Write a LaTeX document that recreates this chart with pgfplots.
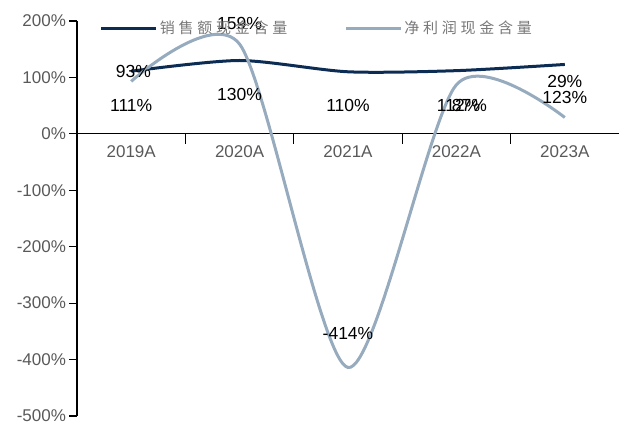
\documentclass[border=0pt]{standalone}
\usepackage{fontspec}
\setmainfont{Liberation Sans}
\newfontfamily\cjk{Noto Sans CJK SC}[LetterSpace=25]
\usepackage{pgfplots}
\pgfplotsset{compat=1.18}
\definecolor{navy}{RGB}{12,44,84}
\definecolor{lblue}{RGB}{151,171,190}
\definecolor{tickgray}{RGB}{89,89,89}
\definecolor{leggray}{RGB}{120,120,120}

\pgfplotstableread{
x y
0 111
1 130
2 110
3 112
4 123
}\sales
\pgfplotstableread{
x y
0 93
1 159
2 -414
3 87
4 29
}\profit
\pgfplotstableread{
x y v
0.02 110 93
1 195 159
2 -354 -414
3.12 50 87
4 92 29
0 50 111
1 69 130
2 50 110
3.02 50 112
4 64 123
}\labels

\begin{document}
\begin{tikzpicture}
% category separator ticks below the zero line (drawn as grid lines of a thin strip)
\begin{axis}[
  at={(0pt,272.143pt)}, anchor=south west,
  width=542pt, height=10pt, scale only axis,
  xmin=-0.5, xmax=4.5, ymin=0, ymax=1,
  axis line style={draw=none},
  ytick=\empty,
  xtick={0.5,1.5,2.5,3.5}, xticklabels={,,,},
  major tick length=0pt,
  xmajorgrids,
  major grid style={black, line width=1.2pt, solid},
]
\end{axis}
% x axis line at y = 0
\begin{axis}[
  at={(0pt,282.143pt)}, anchor=south west,
  width=542pt, height=112.857pt, scale only axis,
  xmin=-0.5, xmax=4.5, ymin=0, ymax=200,
  axis x line=bottom, axis y line=none,
  axis line style={-, black, line width=1.2pt},
  ytick=\empty,
  xtick={0,1,2,3,4},
  xticklabels={2019A,2020A,2021A,2022A,2023A},
  major tick length=0pt,
  xticklabel style={font=\fontsize{17}{20}\selectfont, text=tickgray, yshift=-8pt},
]
\end{axis}
\begin{axis}[
  name=ax,
  at={(0pt,0pt)}, anchor=south west,
  width=542pt, height=395pt, scale only axis,
  clip=false,
  xmin=-0.5, xmax=4.5, ymin=-500, ymax=200,
  axis y line=left, axis x line=none,
  axis line style={-, black, line width=1.2pt},
  ytick={-500,-400,-300,-200,-100,0,100,200},
  yticklabels={-500\%,-400\%,-300\%,-200\%,-100\%,0\%,100\%,200\%},
  ytick align=outside,
  major tick length=7.5pt,
  tick style={black, line width=1.2pt},
  xtick=\empty,
  yticklabel style={font=\fontsize{17}{20}\selectfont, text=tickgray},
  legend columns=2,
  legend style={at={(0.042,0.982)}, anchor=west, draw=none, fill=none,
    inner xsep=0pt, inner ysep=0pt,
    font=\fontsize{15}{18}\selectfont\cjk, text=leggray,
    /tikz/every even column/.append style={column sep=55pt}},
  legend image code/.code={\draw[#1] (0pt,0pt) -- (55pt,0pt);},
]
\addplot[navy, line width=3pt, smooth, tension=0.45, mark=none] table[x=x,y=y] {\sales};
\addlegendentry{销售额现金含量}
\addplot[lblue, line width=3pt, smooth, tension=0.45, mark=none] table[x=x,y=y] {\profit};
\addlegendentry{净利润现金含量}
\addplot[draw=none, mark=none, forget plot, point meta=explicit,
  nodes near coords={\pgfmathprintnumber[assume math mode=true]{\pgfplotspointmeta}\%},
  every node near coord/.style={anchor=center, inner sep=0pt, text=black, font=\fontsize{17.5}{20}\selectfont}]
  table[x=x,y=y,meta=v] {\labels};
\end{axis}
\pgfresetboundingbox
\path ([xshift=-77pt,yshift=-5pt]ax.south west) rectangle ([yshift=21pt]ax.north east);
\end{tikzpicture}
\end{document}
